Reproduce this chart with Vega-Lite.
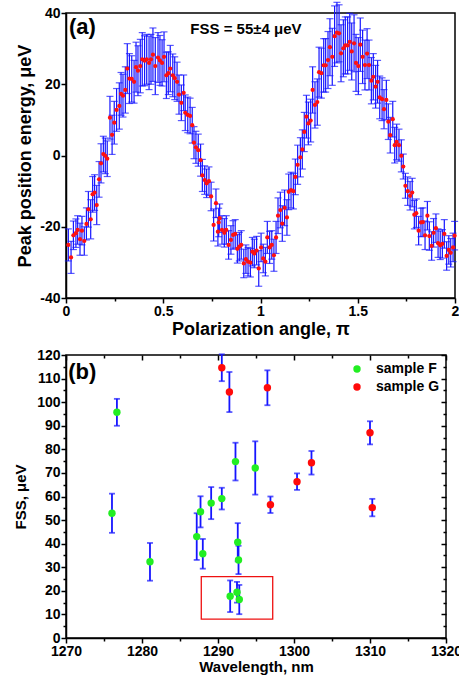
{
  "$schema": "https://vega.github.io/schema/vega-lite/v6.json",
  "background": "white",
  "padding": {"left": 12, "top": 0, "right": 2, "bottom": 2},
  "config": {
    "font": "Liberation Sans",
    "view": {"stroke": "black", "strokeWidth": 1.5},
    "axis": {
      "grid": false,
      "domainColor": "black",
      "domainWidth": 1.5,
      "tickColor": "black",
      "tickWidth": 1.5,
      "labelFont": "Liberation Sans",
      "labelFontWeight": "bold",
      "labelFontSize": 14,
      "labelColor": "black",
      "labelPadding": 1,
      "titleFont": "Liberation Sans",
      "titleFontWeight": "bold",
      "titleColor": "black",
      "labelOverlap": false,
      "labelFlush": false
    },
    "legend": {
      "labelFont": "Liberation Sans",
      "labelFontWeight": "bold",
      "labelFontSize": 14,
      "labelColor": "black"
    }
  },
  "datasets": {
    "pol": [
      {"angle":0.012,"energy":-25.1,"err":4.5},{"angle":0.026,"energy":-28.6,"err":4.5},{"angle":0.038,"energy":-22.4,"err":4},{"angle":0.051,"energy":-21.8,"err":4},{"angle":0.06,"energy":-20.9,"err":4},{"angle":0.072,"energy":-23.5,"err":4.5},{"angle":0.082,"energy":-21.1,"err":4},{"angle":0.094,"energy":-24.0,"err":4},{"angle":0.105,"energy":-19.2,"err":4.5},{"angle":0.115,"energy":-15.1,"err":5},
      {"angle":0.127,"energy":-17.9,"err":5.5},{"angle":0.137,"energy":-10.9,"err":5},{"angle":0.147,"energy":-10.4,"err":5},{"angle":0.158,"energy":-13.9,"err":5.5},{"angle":0.17,"energy":-6.7,"err":5},{"angle":0.18,"energy":-2.2,"err":5.5},{"angle":0.192,"energy":0.4,"err":5},{"angle":0.202,"energy":-0.1,"err":5},{"angle":0.212,"energy":-0.9,"err":5},{"angle":0.226,"energy":10.6,"err":6},
      {"angle":0.237,"energy":5.8,"err":5.5},{"angle":0.248,"energy":9.2,"err":6},{"angle":0.26,"energy":12.8,"err":6},{"angle":0.274,"energy":13.9,"err":6.5},{"angle":0.283,"energy":17.3,"err":6},{"angle":0.293,"energy":16.8,"err":6},{"angle":0.305,"energy":18.4,"err":6.5},{"angle":0.315,"energy":24.4,"err":7},{"angle":0.326,"energy":21.6,"err":7},{"angle":0.338,"energy":21.5,"err":6.5},
      {"angle":0.35,"energy":20.7,"err":6},{"angle":0.36,"energy":24.8,"err":7},{"angle":0.37,"energy":23.8,"err":7},{"angle":0.382,"energy":25.1,"err":7.5},{"angle":0.392,"energy":27.0,"err":7.5},{"angle":0.404,"energy":26.6,"err":7},{"angle":0.415,"energy":27.0,"err":7},{"angle":0.427,"energy":26.0,"err":7.5},{"angle":0.437,"energy":27.0,"err":7},{"angle":0.447,"energy":28.3,"err":7.5},
      {"angle":0.459,"energy":25.1,"err":8},{"angle":0.473,"energy":27.5,"err":7},{"angle":0.483,"energy":26.7,"err":7},{"angle":0.494,"energy":26.0,"err":6.5},{"angle":0.504,"energy":27.7,"err":7},{"angle":0.516,"energy":22.5,"err":6.5},{"angle":0.526,"energy":23.1,"err":6},{"angle":0.536,"energy":24.4,"err":6.5},{"angle":0.549,"energy":22.5,"err":6},{"angle":0.559,"energy":21.7,"err":6},
      {"angle":0.571,"energy":20.7,"err":5.5},{"angle":0.581,"energy":17.1,"err":5.5},{"angle":0.593,"energy":14.8,"err":5},{"angle":0.605,"energy":17.6,"err":5},{"angle":0.613,"energy":12.0,"err":5},{"angle":0.626,"energy":11.4,"err":5},{"angle":0.638,"energy":11.1,"err":5},{"angle":0.649,"energy":8.5,"err":5},{"angle":0.658,"energy":3.6,"err":4.5},{"angle":0.668,"energy":2.3,"err":4.5},
      {"angle":0.68,"energy":1.5,"err":4.5},{"angle":0.692,"energy":-1.3,"err":4.5},{"angle":0.701,"energy":-5.6,"err":4.5},{"angle":0.713,"energy":-6.9,"err":4},{"angle":0.723,"energy":-7.8,"err":4},{"angle":0.735,"energy":-7.2,"err":4},{"angle":0.746,"energy":-11.5,"err":4},{"angle":0.759,"energy":-19.5,"err":4.5},{"angle":0.771,"energy":-13.4,"err":4},{"angle":0.781,"energy":-21.4,"err":4},
      {"angle":0.785,"energy":-18.8,"err":4},{"angle":0.79,"energy":-17.6,"err":4},{"angle":0.802,"energy":-20.9,"err":4},{"angle":0.814,"energy":-21.7,"err":4},{"angle":0.824,"energy":-20.9,"err":4},{"angle":0.836,"energy":-25.1,"err":4},{"angle":0.848,"energy":-23.7,"err":4},{"angle":0.859,"energy":-22.3,"err":4},{"angle":0.87,"energy":-22.0,"err":4},{"angle":0.881,"energy":-26.2,"err":4},
      {"angle":0.891,"energy":-25.6,"err":4},{"angle":0.901,"energy":-25.1,"err":4},{"angle":0.914,"energy":-30.3,"err":4},{"angle":0.925,"energy":-29.1,"err":4},{"angle":0.936,"energy":-29.8,"err":4},{"angle":0.948,"energy":-30.1,"err":4},{"angle":0.958,"energy":-27.0,"err":4},{"angle":0.968,"energy":-27.5,"err":4},{"angle":0.98,"energy":-26.7,"err":4},{"angle":0.991,"energy":-31.7,"err":5},
      {"angle":1.003,"energy":-25.8,"err":4},{"angle":1.014,"energy":-28.9,"err":4},{"angle":1.025,"energy":-29.8,"err":4},{"angle":1.035,"energy":-23.0,"err":4.5},{"angle":1.047,"energy":-25.8,"err":4.5},{"angle":1.058,"energy":-25.1,"err":4},{"angle":1.069,"energy":-28.0,"err":4.5},{"angle":1.08,"energy":-23.0,"err":4.5},{"angle":1.09,"energy":-16.9,"err":5},{"angle":1.102,"energy":-15.3,"err":5},
      {"angle":1.112,"energy":-19.1,"err":5},{"angle":1.124,"energy":-14.7,"err":5},{"angle":1.136,"energy":-17.4,"err":5},{"angle":1.145,"energy":-10.2,"err":5},{"angle":1.157,"energy":-9.7,"err":5},{"angle":1.169,"energy":-10.0,"err":5},{"angle":1.179,"energy":-6.0,"err":5},{"angle":1.191,"energy":-2.6,"err":5.5},{"angle":1.205,"energy":-0.5,"err":5.5},{"angle":1.215,"energy":1.7,"err":5.5},
      {"angle":1.225,"energy":6.6,"err":5.5},{"angle":1.236,"energy":10.9,"err":6},{"angle":1.246,"energy":9.0,"err":6},{"angle":1.258,"energy":9.8,"err":6},{"angle":1.268,"energy":18.4,"err":6.5},{"angle":1.28,"energy":14.2,"err":6.5},{"angle":1.292,"energy":15.0,"err":6.5},{"angle":1.301,"energy":23.4,"err":7},{"angle":1.313,"energy":23.1,"err":7},{"angle":1.325,"energy":25.3,"err":7.5},
      {"angle":1.335,"energy":25.3,"err":7.5},{"angle":1.347,"energy":26.8,"err":8},{"angle":1.357,"energy":30.4,"err":8},{"angle":1.369,"energy":27.7,"err":8},{"angle":1.381,"energy":33.5,"err":8.5},{"angle":1.393,"energy":34.5,"err":8.5},{"angle":1.404,"energy":34.3,"err":8},{"angle":1.414,"energy":28.7,"err":8},{"angle":1.426,"energy":30.1,"err":8},{"angle":1.436,"energy":30.9,"err":8},
      {"angle":1.448,"energy":30.9,"err":8},{"angle":1.459,"energy":31.9,"err":8},{"angle":1.469,"energy":29.2,"err":8},{"angle":1.481,"energy":31.5,"err":8},{"angle":1.491,"energy":26.0,"err":8},{"angle":1.503,"energy":25.1,"err":8},{"angle":1.513,"energy":31.1,"err":7.5},{"angle":1.525,"energy":27.7,"err":7.5},{"angle":1.537,"energy":25.4,"err":7},{"angle":1.548,"energy":28.6,"err":7},
      {"angle":1.558,"energy":25.4,"err":7},{"angle":1.57,"energy":21.0,"err":6.5},{"angle":1.58,"energy":22.1,"err":6.5},{"angle":1.592,"energy":19.3,"err":6},{"angle":1.602,"energy":20.7,"err":6},{"angle":1.613,"energy":16.3,"err":6},{"angle":1.625,"energy":15.8,"err":6},{"angle":1.635,"energy":13.0,"err":5.5},{"angle":1.647,"energy":15.6,"err":5.5},{"angle":1.657,"energy":9.5,"err":5},
      {"angle":1.667,"energy":5.7,"err":5},{"angle":1.68,"energy":10.2,"err":5},{"angle":1.69,"energy":2.9,"err":5},{"angle":1.7,"energy":3.8,"err":5},{"angle":1.712,"energy":2.9,"err":4.5},{"angle":1.724,"energy":-0.1,"err":4.5},{"angle":1.734,"energy":-3.1,"err":3.5},{"angle":1.745,"energy":-8.5,"err":3.5},{"angle":1.757,"energy":-10.0,"err":4},{"angle":1.769,"energy":-11.3,"err":4},
      {"angle":1.78,"energy":-10.4,"err":4},{"angle":1.791,"energy":-16.6,"err":4},{"angle":1.801,"energy":-16.2,"err":4},{"angle":1.813,"energy":-21.1,"err":4},{"angle":1.825,"energy":-18.8,"err":4},{"angle":1.835,"energy":-18.7,"err":4},{"angle":1.846,"energy":-22.4,"err":4},{"angle":1.858,"energy":-16.9,"err":4},{"angle":1.868,"energy":-22.6,"err":4},{"angle":1.88,"energy":-25.4,"err":4},
      {"angle":1.89,"energy":-21.7,"err":4},{"angle":1.902,"energy":-20.4,"err":4},{"angle":1.913,"energy":-24.6,"err":4},{"angle":1.924,"energy":-25.2,"err":4},{"angle":1.935,"energy":-24.8,"err":4},{"angle":1.945,"energy":-22.0,"err":4},{"angle":1.957,"energy":-28.2,"err":4},{"angle":1.968,"energy":-26.5,"err":4},{"angle":1.978,"energy":-27.3,"err":4},{"angle":1.99,"energy":-25.8,"err":4},
      {"angle":1.998,"energy":-22.5,"err":4}
    ],
    "fss": [
      {"wl":1276.05,"fss":52.9,"err":8.3,"sample":"sample F"},
      {"wl":1276.7,"fss":95.7,"err":5.7,"sample":"sample F"},
      {"wl":1281.05,"fss":32.3,"err":8,"sample":"sample F"},
      {"wl":1287.2,"fss":43.0,"err":9.9,"sample":"sample F"},
      {"wl":1287.7,"fss":53.5,"err":6.6,"sample":"sample F"},
      {"wl":1288.0,"fss":35.7,"err":6.3,"sample":"sample F"},
      {"wl":1289.1,"fss":57.2,"err":6.8,"sample":"sample F"},
      {"wl":1290.5,"fss":59.1,"err":4.6,"sample":"sample F"},
      {"wl":1292.3,"fss":74.8,"err":8,"sample":"sample F"},
      {"wl":1294.9,"fss":72.1,"err":11.3,"sample":"sample F"},
      {"wl":1292.6,"fss":40.6,"err":8.1,"sample":"sample F"},
      {"wl":1292.7,"fss":33.1,"err":6,"sample":"sample F"},
      {"wl":1291.6,"fss":17.7,"err":6.7,"sample":"sample F"},
      {"wl":1292.5,"fss":19.4,"err":4.4,"sample":"sample F"},
      {"wl":1292.8,"fss":16.3,"err":6.2,"sample":"sample F"},
      {"wl":1290.5,"fss":114.6,"err":5.7,"sample":"sample G"},
      {"wl":1291.5,"fss":104.3,"err":8.5,"sample":"sample G"},
      {"wl":1296.5,"fss":106.1,"err":7.4,"sample":"sample G"},
      {"wl":1296.9,"fss":56.5,"err":3.5,"sample":"sample G"},
      {"wl":1300.4,"fss":66.3,"err":3.5,"sample":"sample G"},
      {"wl":1302.3,"fss":74.3,"err":5,"sample":"sample G"},
      {"wl":1310.0,"fss":87.0,"err":4.9,"sample":"sample G"},
      {"wl":1310.3,"fss":55.3,"err":3.7,"sample":"sample G"}
    ]
  },
  "spacing": 8,
  "vconcat": [
    {
      "width": 389,
      "height": 285,
      "data": {"name": "pol"},
      "layer": [
        {
          "mark": {"type": "errorbar", "ticks": {"size": 7}, "color": "#1515ff", "thickness": 1.2},
          "encoding": {
            "x": {"field": "angle", "type": "quantitative",
              "scale": {"domain": [0, 2], "nice": false, "zero": false},
              "axis": {"title": "Polarization angle, π", "titleFontSize": 18, "titlePadding": 2,
                "values": [0,0.25,0.5,0.75,1,1.25,1.5,1.75,2],
                "labelExpr": "datum.value % 0.5 === 0 ? '' + datum.value : ''",
                "tickSize": {"condition": {"test": "datum.value % 0.5 === 0", "value": 5}, "value": 3}}},
            "y": {"field": "energy", "type": "quantitative",
              "scale": {"domain": [-40, 40], "nice": false, "zero": false},
              "axis": {"title": "Peak position energy, μeV", "titleFontSize": 18, "titlePadding": 5,
                "values": [-40,-35,-30,-25,-20,-15,-10,-5,0,5,10,15,20,25,30,35,40],
                "labelExpr": "datum.value % 10 === 0 ? '' + datum.value : ''",
                "tickSize": {"condition": {"test": "datum.value % 10 === 0", "value": 5}, "value": 3}}},
            "yError": {"field": "err"}
          }
        },
        {
          "mark": {"type": "circle", "color": "#ff1010", "size": 18, "opacity": 1},
          "encoding": {
            "x": {"field": "angle", "type": "quantitative"},
            "y": {"field": "energy", "type": "quantitative"}
          }
        },
        {
          "data": {"values": [{}]},
          "mark": {"type": "text", "text": "(a)", "fontSize": 22, "fontWeight": "bold", "align": "left", "baseline": "middle", "color": "black"},
          "encoding": {"x": {"datum": 0.015}, "y": {"datum": 36}}
        },
        {
          "data": {"values": [{}]},
          "mark": {"type": "text", "text": "FSS = 55±4 μeV", "fontSize": 15, "fontWeight": "bold", "align": "center", "baseline": "middle", "color": "black"},
          "encoding": {"x": {"datum": 0.925}, "y": {"datum": 35.6}}
        }
      ]
    },
    {
      "width": 380,
      "height": 283,
      "data": {"name": "fss"},
      "resolve": {"axis": {"x": "independent", "y": "independent"}},
      "layer": [
        {
          "mark": {"type": "errorbar", "ticks": {"size": 6}, "color": "#1515ff", "thickness": 1.8},
          "encoding": {
            "x": {"field": "wl", "type": "quantitative",
              "scale": {"domain": [1270, 1320], "nice": false, "zero": false},
              "axis": {"title": "Wavelength, nm", "titleFontSize": 15, "titlePadding": 1,
                "values": [1270,1275,1280,1285,1290,1295,1300,1305,1310,1315,1320],
                "labelExpr": "datum.value % 10 === 0 ? '' + datum.value : ''",
                "tickSize": {"condition": {"test": "datum.value % 10 === 0", "value": 5}, "value": 3}}},
            "y": {"field": "fss", "type": "quantitative",
              "scale": {"domain": [0, 120], "nice": false, "zero": false},
              "axis": {"title": "FSS, μeV", "titleFontSize": 15, "titlePadding": 8,
                "values": [0,5,10,15,20,25,30,35,40,45,50,55,60,65,70,75,80,85,90,95,100,105,110,115,120],
                "labelExpr": "datum.value % 10 === 0 ? '' + datum.value : ''",
                "tickSize": {"condition": {"test": "datum.value % 10 === 0", "value": 5}, "value": 3}}},
            "yError": {"field": "err"}
          }
        },
        {
          "mark": {"type": "circle", "size": 55, "opacity": 1},
          "encoding": {
            "x": {"field": "wl", "type": "quantitative", "axis": null},
            "y": {"field": "fss", "type": "quantitative", "axis": null},
            "color": {"field": "sample", "type": "nominal",
              "scale": {"domain": ["sample F", "sample G"], "range": ["#22ee22", "#ff0a0a"]},
              "legend": {"title": null, "orient": "none", "legendX": 284, "legendY": 349, "symbolType": "circle", "symbolSize": 55, "rowPadding": 4, "labelOffset": 12}}
          }
        },
        {
          "data": {"values": [{}]},
          "mark": {"type": "rect", "fill": null, "fillOpacity": 0, "stroke": "#ee1111", "strokeWidth": 1.3},
          "encoding": {
            "x": {"datum": 1287.8, "axis": {"orient": "top", "title": null, "labels": false, "domain": false,
              "values": [1270,1275,1280,1285,1290,1295,1300,1305,1310,1315,1320],
              "tickSize": {"condition": {"test": "datum.value % 10 === 0", "value": -5}, "value": -3}}},
            "x2": {"datum": 1297.2},
            "y": {"datum": 26, "axis": {"orient": "right", "title": null, "labels": false, "domain": false,
              "values": [0,5,10,15,20,25,30,35,40,45,50,55,60,65,70,75,80,85,90,95,100,105,110,115,120],
              "tickSize": {"condition": {"test": "datum.value % 10 === 0", "value": -5}, "value": -3}}},
            "y2": {"datum": 8}
          }
        },
        {
          "data": {"values": [{}]},
          "mark": {"type": "text", "text": "(b)", "fontSize": 22, "fontWeight": "bold", "align": "left", "baseline": "middle", "color": "black"},
          "encoding": {"x": {"datum": 1270.3, "axis": null}, "y": {"datum": 113, "axis": null}}
        }
      ]
    }
  ]
}
